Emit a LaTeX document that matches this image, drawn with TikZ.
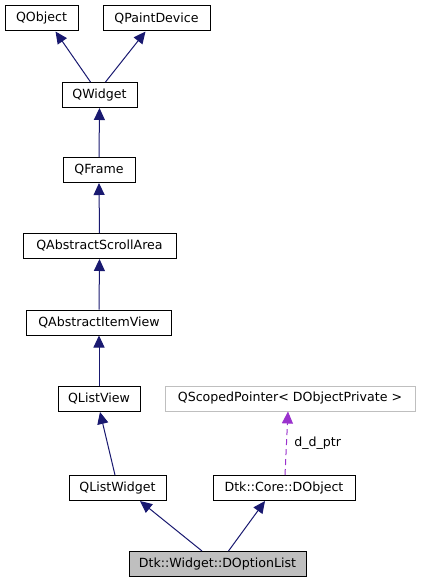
\documentclass[tikz,border=0pt]{standalone}
\usepackage{fontspec}
\setmainfont{DejaVu Sans}
\usetikzlibrary{arrows.meta}
\definecolor{edgeblue}{HTML}{191970}
\definecolor{edgepurple}{HTML}{9A32CD}
\definecolor{boxgray}{HTML}{BFBFBF}
\definecolor{lightborder}{HTML}{BFBFBF}
\tikzset{
  cls/.style={draw=black, line width=1pt, fill=white, inner sep=0pt, minimum height=25pt,
    font=\fontsize{12.6}{14}\selectfont, text=black},
  ext/.style={cls, draw=lightborder},
  cur/.style={cls, fill=boxgray},
  inh/.style={draw=edgeblue, line width=1pt, -{Triangle[length=12pt,width=11pt,fill=edgeblue]}},
  use/.style={draw=edgepurple, line width=1pt, dashed, dash pattern=on 6pt off 4pt, -{Triangle[length=12pt,width=11pt,fill=edgepurple]}},
}
\begin{document}
\begin{tikzpicture}[x=1pt,y=-1pt]
\useasboundingbox (0,0) rectangle (421,583);
\node[cls, minimum width=73pt] (qobject) at (41.5,18.5) {QObject};
\node[cls, minimum width=107pt] (qpaint) at (156.5,18.5) {QPaintDevice};
\node[cls, minimum width=75pt] (qwidget) at (99.5,95) {QWidget};
\node[cls, minimum width=72pt] (qframe) at (99,170) {QFrame};
\node[cls, minimum width=153pt] (qscroll) at (99.5,246) {QAbstractScrollArea};
\node[cls, minimum width=145pt] (qitem) at (99,322.5) {QAbstractItemView};
\node[cls, minimum width=82pt] (qlistview) at (99,399) {QListView};
\node[ext, minimum width=250pt] (qscoped) at (290,398.5) {QScopedPointer< DObjectPrivate >};
\node[cls, minimum width=97pt] (qlistwidget) at (117.5,488) {QListWidget};
\node[cls, minimum width=142pt] (dobject) at (284,488) {Dtk::Core::DObject};
\node[cur, minimum width=177pt] (doption) at (217.5,564) {Dtk::Widget::DOptionList};

\draw[inh] ([xshift=-9pt]qwidget.north) -- ([xshift=14pt]qobject.south);
\draw[inh] ([xshift=6pt]qwidget.north) -- ([xshift=-11pt]qpaint.south);
\draw[inh] (qframe.north) -- (qwidget.south);
\draw[inh] (qscroll.north) -- (qframe.south);
\draw[inh] (qitem.north) -- (qscroll.south);
\draw[inh] (qlistview.north) -- (qitem.south);
\draw[inh] ([xshift=-2.5pt]qlistwidget.north) -- ([xshift=1pt]qlistview.south);
\draw[inh] ([xshift=-15.5pt]doption.north) -- ([xshift=22.5pt]qlistwidget.south);
\draw[inh] ([xshift=11pt]doption.north) -- ([xshift=-19pt]dobject.south);
\draw[use] ([xshift=1pt]dobject.north) -- ([xshift=-2pt]qscoped.south) node[midway, right=4pt, font=\fontsize{12.6}{14}\selectfont] {d\_d\_ptr};
\end{tikzpicture}
\end{document}
